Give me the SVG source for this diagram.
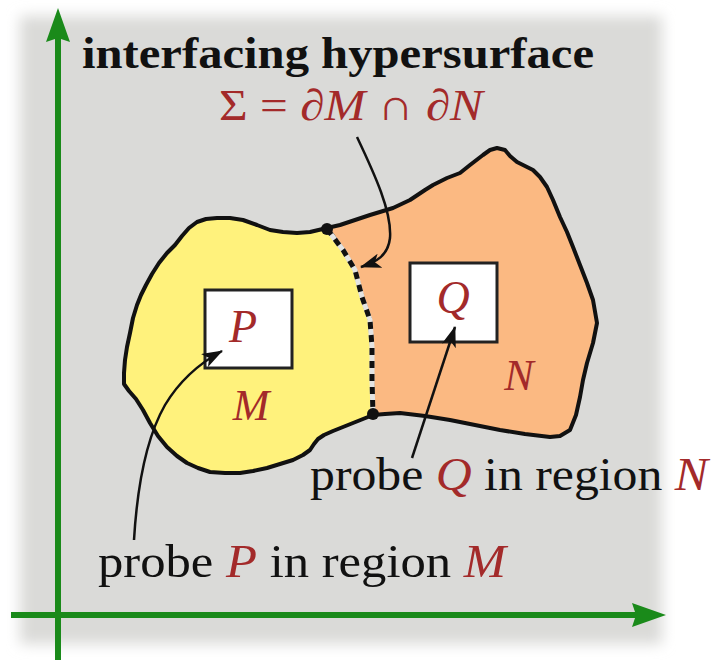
<svg xmlns="http://www.w3.org/2000/svg" width="711" height="660" viewBox="0 0 711 660">
  <defs>
    <filter id="soft" x="-10%" y="-10%" width="120%" height="120%">
      <feGaussianBlur stdDeviation="7"/>
    </filter>
    <marker id="stealth" markerUnits="userSpaceOnUse" viewBox="0 0 20 14" refX="19" refY="7" markerWidth="21" markerHeight="15" orient="auto">
      <path d="M0,0 L20,7 L0,14 L5,7 Z" fill="#111"/>
    </marker>
    <style>
      .region { stroke: #111; stroke-width: 4; stroke-linejoin: round; }
      .probe { fill: #fff; stroke: #222; stroke-width: 3; }
      .txt { font-family: "Liberation Serif", "DejaVu Serif", serif; }
      .red { fill: #a32a2a; }
      .it { font-style: italic; }
      .conn { fill: none; stroke: #111; stroke-width: 2.5; marker-end: url(#stealth); }
      .axis { stroke: #1a8a1a; stroke-width: 6; }
    </style>
  </defs>

  <rect x="0" y="0" width="711" height="660" fill="#ffffff"/>
  <rect x="20" y="16" width="642" height="628" fill="#dadad8" filter="url(#soft)"/>

  <g id="axes">
    <line class="axis" x1="58" y1="660" x2="58" y2="38"/>
    <polygon points="58,8 70,42 58,38 46,42" fill="#1a8a1a"/>
    <line class="axis" x1="11" y1="615" x2="636" y2="615"/>
    <polygon points="666,615 632,627 636,615 632,603" fill="#1a8a1a"/>
  </g>

  <g id="region-N">
    <path class="region" fill="#fbb982" d="M327,228 L340,225 L355,220 L370,215 L393,208 L410,200 L425,190 L433,185 L447,178 L460,173 L470,165 L483,155 L490,150 L497,148 L505,150 L510,156 L517,162 L525,166 L533,170 L540,177 L547,187 L553,200 L560,217 L567,232 L573,247 L580,265 L587,283 L593,300 L597,323 L593,343 L587,363 L583,380 L580,397 L576,415 L570,430 L560,436 L550,437 L525,434 L500,430 L475,425 L450,420 L425,416 L400,413 L385,414 L373,415 L373,413 L372,380 L372,347 L370,320 L362,297 L355,270 L343,250 Z"/>
    <text class="txt red it" x="519" y="390" font-size="44" text-anchor="middle">N</text>
  </g>

  <g id="region-M">
    <path class="region" fill="#fff27c" d="M327,228 L310,232 L297,233 L283,232 L270,230 L257,225 L243,220 L230,218 L217,218 L206,219 L197,222 L189,228 L182,236 L175,245 L167,253 L159,263 L152,274 L146,285 L141,295 L137,305 L133,318 L130,333 L127,347 L125,360 L124,373 L124,384 L129,391 L136,399 L143,410 L150,423 L158,436 L167,447 L177,456 L187,463 L198,468 L210,472 L225,473 L240,473 L253,471 L267,468 L280,464 L293,460 L303,455 L310,450 L314,444 L318,439 L324,435 L333,431 L343,427 L353,423 L363,419 L373,415 L373,413 L372,380 L372,347 L370,320 L362,297 L355,270 L343,250 Z"/>
    <text class="txt red it" x="251" y="420" font-size="44" text-anchor="middle">M</text>
  </g>

  <g id="interface-sigma">
    <path d="M327,229 L343,250 L355,270 L362,297 L370,320 L372,347 L372,380 L373,414" fill="none" stroke="#e4e4e2" stroke-width="5"/>
    <path d="M327,229 L343,250 L355,270 L362,297 L370,320 L372,347 L372,380 L373,414" fill="none" stroke="#111" stroke-width="5" stroke-dasharray="7 6"/>
    <circle cx="327" cy="229" r="6" fill="#111"/>
    <circle cx="373" cy="414" r="6" fill="#111"/>
  </g>

  <g id="probe-P">
    <rect class="probe" x="205" y="290" width="87" height="78"/>
    <text class="txt red it" x="243" y="342" font-size="46" text-anchor="middle">P</text>
  </g>

  <g id="probe-Q">
    <rect class="probe" x="410" y="263" width="87" height="79"/>
    <text class="txt red it" x="453" y="313" font-size="46" text-anchor="middle">Q</text>
  </g>

  <g id="title">
    <text class="txt" x="82" y="68" font-size="44" font-weight="bold" fill="#111" textLength="512" lengthAdjust="spacingAndGlyphs">interfacing hypersurface</text>
  </g>

  <g id="sigma-label">
    <text class="txt red" x="219" y="120" font-size="44" textLength="264" lengthAdjust="spacingAndGlyphs">Σ = <tspan class="it">∂M</tspan> ∩ <tspan class="it">∂N</tspan></text>
  </g>

  <g id="label-Q">
    <text class="txt" x="310" y="490" font-size="46" fill="#111" textLength="398" lengthAdjust="spacingAndGlyphs">probe <tspan class="red it">Q</tspan> in region <tspan class="red it">N</tspan></text>
  </g>

  <g id="label-P">
    <text class="txt" x="98" y="577" font-size="46" fill="#111" textLength="408" lengthAdjust="spacingAndGlyphs">probe <tspan class="red it">P</tspan> in region <tspan class="red it">M</tspan></text>
  </g>

  <g id="connectors">
    <path class="conn" d="M357,137 C375,175 392,212 390,238 C388,256 376,262 361,267"/>
    <path class="conn" d="M134,540 C137,490 145,440 165,405 C180,380 200,363 222,351"/>
    <path class="conn" d="M412,458 L455,327"/>
  </g>
</svg>
